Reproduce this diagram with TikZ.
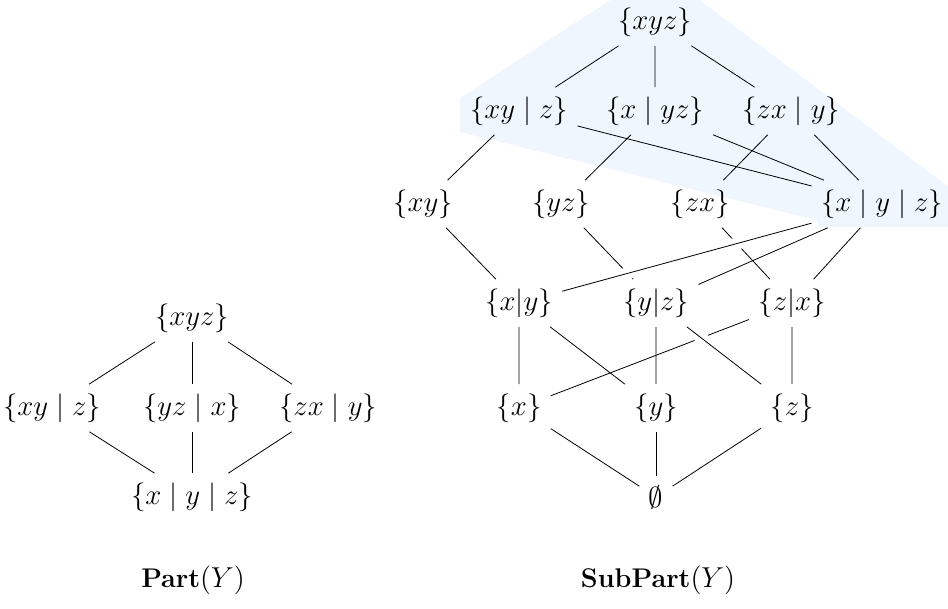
\documentclass[tikz,border=0pt]{standalone}
\usepackage{tikz}
\definecolor{hullblue}{HTML}{EFF6FE}

\begin{document}
\begin{tikzpicture}[x=0.5pt, y=-0.5pt,
every node/.style = {inner sep=4.5pt, font=\fontsize{13.5pt}{16pt}\selectfont},
over/.style = {preaction={draw=white, line width=6pt}}]

\useasboundingbox (0,0) rectangle (948,609);
\begin{scope}
\clip (0,0) rectangle (948,609);
\fill[hullblue] (658,-31) -- (460,98) -- (460,132) -- (816,220) -- (820,227)
  -- (970,227) -- (970,203) -- cycle;
\end{scope}

% Part(Y)
\node (p-xyz) at (192,318) {$\{xyz\}$};
\node (p-xy-z) at (52,408) {$\{xy \mid z\}$};
\node (p-yz-x) at (192,408) {$\{yz \mid x\}$};
\node (p-zx-y) at (328,408) {$\{zx \mid y\}$};
\node (p-x-y-z) at (192,497) {$\{x \mid y \mid z\}$};
\node (p-label) at (193,580) {\textbf{Part}$(Y)$};

\foreach \n in {p-xy-z, p-yz-x, p-zx-y}
  \draw (p-xyz) -- (\n) (\n) -- (p-x-y-z);

% SubPart(Y)
\node (s-xyz) at (655,22) {$\{xyz\}$};
\node (s-xy-z) at (519,111) {$\{xy \mid z\}$};
\node (s-x-yz) at (655,111) {$\{x \mid yz\}$};
\node (s-zx-y) at (791,111) {$\{zx \mid y\}$};
\node (s-xy) at (423,204) {$\{xy\}$};
\node (s-yz) at (561,204) {$\{yz\}$};
\node (s-zx) at (700,204) {$\{zx\}$};
\node (s-x-y-z) at (882,204) {$\{x \mid y \mid z\}$};
\node (s-x-y) at (519,303) {$\{x|y\}$};
\node (s-y-z) at (656,303) {$\{y|z\}$};
\node (s-z-x) at (792,303) {$\{z|x\}$};
\node (s-x) at (519,408) {$\{x\}$};
\node (s-y) at (656,408) {$\{y\}$};
\node (s-z) at (792,408) {$\{z\}$};
\node (s-empty) at (656,497) {$\emptyset$};
\node (s-label) at (658,580) {\textbf{SubPart}$(Y)$};

\foreach \n in {s-xy-z, s-x-yz, s-zx-y}
  \draw (s-xyz) -- (\n) (\n) -- (s-x-y-z);
\draw (s-xy-z) -- (s-xy) (s-x-yz) -- (s-yz) (s-zx-y) -- (s-zx);
\draw (s-xy) -- (s-x-y) (s-yz) -- (s-y-z) (s-zx) -- (s-z-x);
\draw[over] (s-x-y-z) -- (s-x-y);
\draw (s-x-y-z) -- (s-y-z) (s-x-y-z) -- (s-z-x);
\draw (s-x-y) -- (s-x) (s-x-y) -- (s-y) (s-y-z) -- (s-y);
\draw (s-z-x) -- (s-z) (s-z-x) -- (s-x);
\draw[over] (s-y-z) -- (s-z);
\foreach \n in {s-x, s-y, s-z}
  \draw (\n) -- (s-empty);
\end{tikzpicture}
\end{document}
